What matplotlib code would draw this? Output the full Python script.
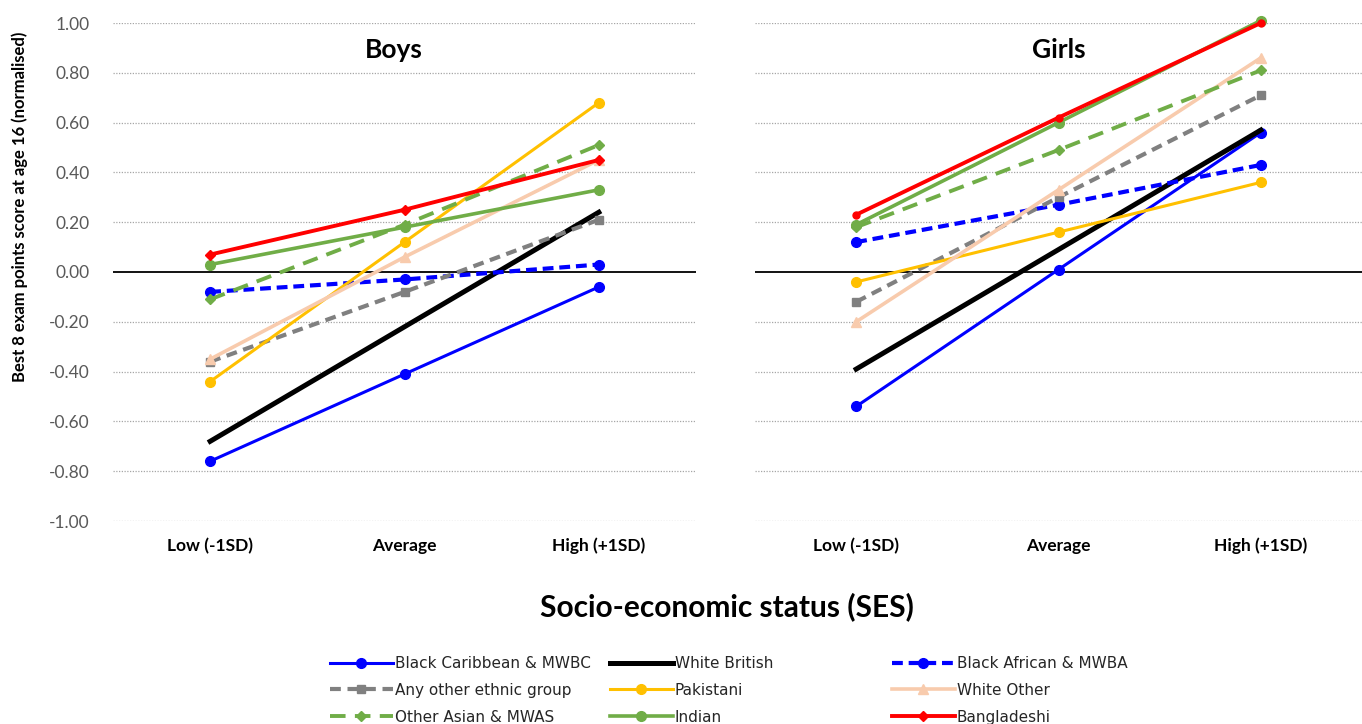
import matplotlib
matplotlib.use("Agg")
import matplotlib.pyplot as plt

categories = ["Low (-1SD)", "Average", "High (+1SD)"]
series_names = ["Black Caribbean & MWBC", "White British", "Black African & MWBA",
                "Any other ethnic group", "Pakistani", "White Other",
                "Other Asian & MWAS", "Indian", "Bangladeshi"]

boys_black_caribbean = [-0.76, -0.41, -0.06]
boys_white_british = [-0.68, -0.22, 0.24]
boys_black_african = [-0.08, -0.03, 0.03]
boys_any_other = [-0.36, -0.08, 0.21]
boys_pakistani = [-0.44, 0.12, 0.68]
boys_white_other = [-0.35, 0.06, 0.45]
boys_other_asian = [-0.11, 0.19, 0.51]
boys_indian = [0.03, 0.18, 0.33]
boys_bangladeshi = [0.07, 0.25, 0.45]

girls_black_caribbean = [-0.54, 0.01, 0.56]
girls_white_british = [-0.39, 0.09, 0.57]
girls_black_african = [0.12, 0.27, 0.43]
girls_any_other = [-0.12, 0.30, 0.71]
girls_pakistani = [-0.04, 0.16, 0.36]
girls_white_other = [-0.20, 0.33, 0.86]
girls_other_asian = [0.18, 0.49, 0.81]
girls_indian = [0.19, 0.60, 1.01]
girls_bangladeshi = [0.23, 0.62, 1.00]

boys = [boys_black_caribbean, boys_white_british, boys_black_african, boys_any_other,
        boys_pakistani, boys_white_other, boys_other_asian, boys_indian, boys_bangladeshi]
girls = [girls_black_caribbean, girls_white_british, girls_black_african, girls_any_other,
         girls_pakistani, girls_white_other, girls_other_asian, girls_indian, girls_bangladeshi]

y_ticks = [1.0, 0.8, 0.6, 0.4, 0.2, 0.0, -0.2, -0.4, -0.6, -0.8, -1.0]

styles = [
    dict(color="#0000FF", lw=2.2, ls="-", marker="o", ms=7),
    dict(color="#000000", lw=3.6, ls="-", marker=None, ms=0),
    dict(color="#0000FF", lw=3.0, ls=(0, (2.6, 1.4)), marker="o", ms=7),
    dict(color="#808080", lw=3.0, ls=(0, (2.6, 1.6)), marker="s", ms=6),
    dict(color="#FFC000", lw=2.2, ls="-", marker="o", ms=7),
    dict(color="#F8CBAD", lw=2.6, ls="-", marker="^", ms=7),
    dict(color="#70AD47", lw=2.8, ls=(0, (4.0, 2.4)), marker="D", ms=5),
    dict(color="#70AD47", lw=2.6, ls="-", marker="o", ms=7),
    dict(color="#FF0000", lw=2.8, ls="-", marker="D", ms=5),
]

plt.rcParams["font.family"] = ["Lato", "DejaVu Sans"]
fig = plt.figure(figsize=(13.62, 7.24), dpi=100)

W, H = 1362, 724
def ax_rect(x0, x1, ytop, ybot):
    return [x0 / W, 1 - ybot / H, (x1 - x0) / W, (ybot - ytop) / H]

ax1 = fig.add_axes(ax_rect(113, 696, 23, 521))
ax2 = fig.add_axes(ax_rect(755, 1362, 23, 521))

x = list(range(len(categories)))
handles = []
for ax, data, title, tx in [(ax1, boys, "Boys", 0.481), (ax2, girls, "Girls", 0.5)]:
    ax.set_xlim(-0.5, 2.5)
    ax.set_ylim(-1.0, 1.0)
    for yv in y_ticks:
        if yv == 0:
            continue
        ax.axhline(yv, color="#A6A6A6", lw=0.9, ls=(0, (1, 1.2)), zorder=0)
    ax.axhline(0, color="#000000", lw=1.3, zorder=1)
    hs = []
    for name, vals, st in zip(series_names, data, styles):
        mk = st["marker"]
        if title == "Girls" and name == "Bangladeshi":
            mk = "o"
        (h,) = ax.plot(x, vals, color=st["color"], lw=st["lw"], ls=st["ls"],
                       marker=mk, ms=st["ms"], label=name, clip_on=False,
                       zorder=3, dash_capstyle="butt")
        hs.append(h)
    if not handles:
        handles = hs
    for sp in ax.spines.values():
        sp.set_visible(False)
    ax.set_xticks(x)
    ax.set_xticklabels(categories, fontsize=12.5, fontweight="bold")
    ax.tick_params(axis="x", length=0, pad=12)
    ax.set_yticks(y_ticks)
    if ax is ax1:
        ax.set_yticklabels([f"{v:.2f}" for v in y_ticks], fontsize=12.5, color="#595959")
        ax.tick_params(axis="y", length=0, pad=17)
    else:
        ax.set_yticklabels([])
        ax.tick_params(axis="y", length=0)
    ax.text(tx, 0.946, title, transform=ax.transAxes, ha="center", va="center",
            fontsize=19, fontweight="bold")

fig.text(20 / W, 1 - 207 / H, "Best 8 exam points score at age 16 (normalised)",
         rotation=90, ha="center", va="center", fontsize=12, fontweight="bold")
fig.text(727 / W, 1 - 607 / H, "Socio-economic status (SES)",
         ha="center", va="center", fontsize=21.5, fontweight="bold")

# legend: three columns, each its own legend
col_x = [330, 610, 892]
for c in range(3):
    hh = [handles[r * 3 + c] for r in range(3)]
    leg = fig.legend(hh, [h.get_label() for h in hh], loc="upper left",
                     bbox_to_anchor=(col_x[c] / W, 1 - 656 / H), frameon=False,
                     prop={"family": "DejaVu Sans", "size": 11},
                     handlelength=4.1, handletextpad=0.15, labelspacing=0.77,
                     borderpad=0, borderaxespad=0, labelcolor="#262626")

fig.savefig("out.png", dpi=100)
